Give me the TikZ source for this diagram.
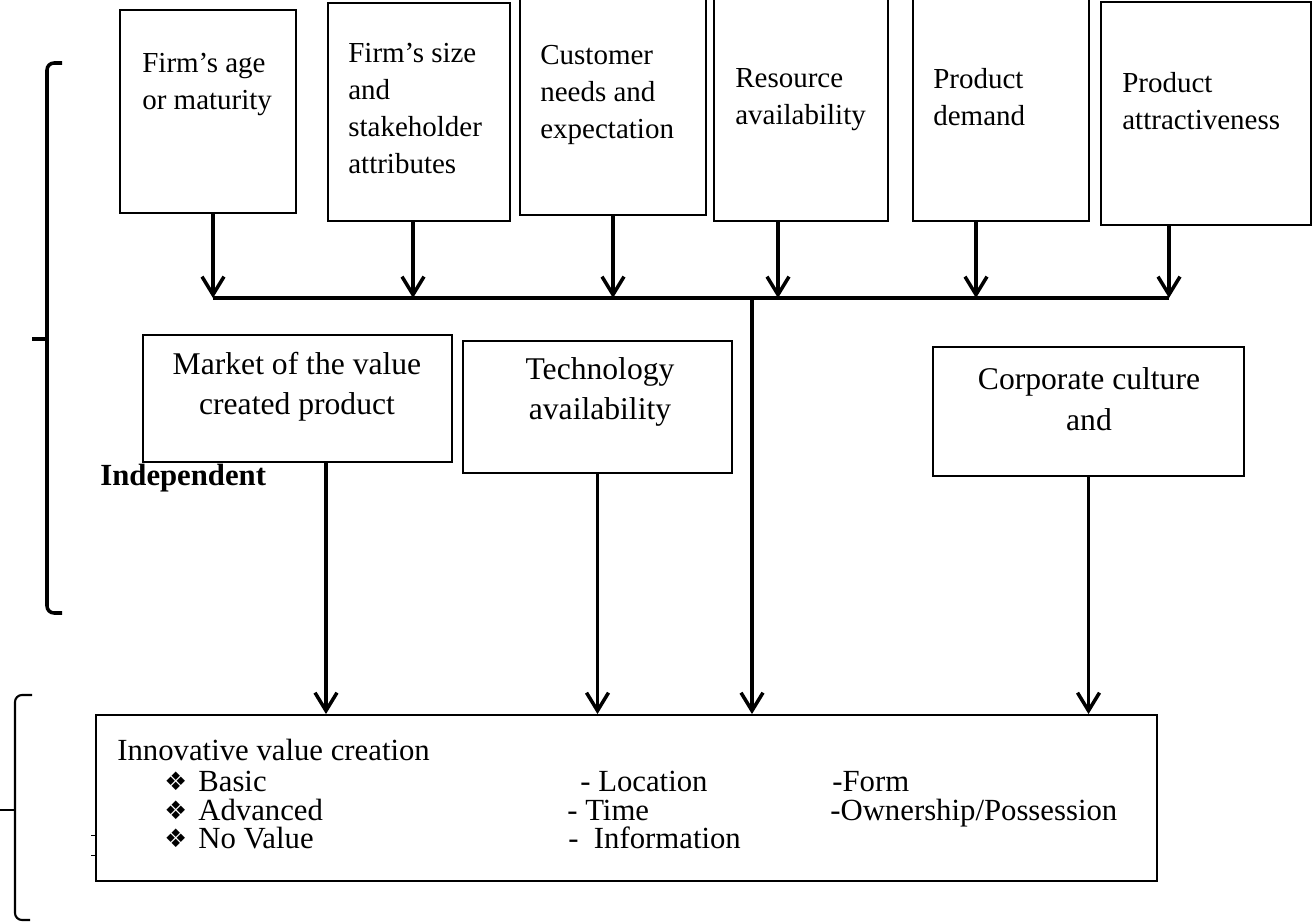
\documentclass[tikz,border=0pt]{standalone}
\usepackage{fontspec}
\setmainfont{Liberation Serif}
\newfontfamily\dingfont{DejaVu Sans}
\usetikzlibrary{arrows.meta,positioning}

\newcommand{\dbullet}{{\dingfont\fontsize{14.5}{14.5}\selectfont\char"2756}}

\begin{document}
\begin{tikzpicture}[
  x=0.02cm, y=-0.02cm,
  factor/.style={draw, line width=1.3pt, inner sep=0pt},
  factortext/.style={anchor=north west, align=left, inner sep=0pt, font=\fontsize{16.5}{21}\selectfont},
  midbox/.style={draw, line width=1.1pt, inner sep=0pt},
  midtext/.style={align=center, inner sep=0pt, font=\fontsize{18}{23}\selectfont},
  itemtext/.style={anchor=base west, inner sep=0pt, font=\fontsize{17.5}{20}\selectfont},
  flow/.style={line width=2pt, -{Straight Barb[length=0.36cm, width=0.44cm]}},
  bus/.style={line width=2pt},
  brace/.style={line width=2pt, rounded corners=4pt}
]
\useasboundingbox (0,0) rectangle (1313,923);

% top row of factors
\node[factor, minimum width=3.52cm, minimum height=4.06cm] (age) at (208,111.5) {};
\node[factor, minimum width=3.64cm, minimum height=4.36cm] (size) at (419,112) {};
\node[factor, minimum width=3.72cm, minimum height=4.5cm] (cust) at (613,102.5) {};
\node[factor, minimum width=3.48cm, minimum height=4.62cm] (res) at (801,105.5) {};
\node[factor, minimum width=3.52cm, minimum height=4.62cm] (dem) at (1001,105.5) {};
\node[factor, minimum width=4.2cm, minimum height=4.46cm] (attr) at (1206,113.5) {};

\node[factortext] (agetxt) at (142,53) {Firm’s age\\or maturity};
\node[factortext] (sizetxt) at (348,43) {Firm’s size\\and\\stakeholder\\attributes};
\node[factortext] (custtxt) at (540,45) {Customer\\needs and\\expectation};
\node[factortext] (restxt) at (735,68) {Resource\\availability};
\node[factortext] (demtxt) at (933,68) {Product\\demand};
\node[factortext] (attrtxt) at (1122,72) {Product\\attractiveness};

% collecting line
\coordinate (b1) at (213,298);
\coordinate (b2) at (413,298);
\coordinate (b3) at (613,298);
\coordinate (b4) at (778,298);
\coordinate (b5) at (976,298);
\coordinate (b6) at (1169,298);
\coordinate (trunk) at (752,298);

\draw[flow] (age.south -| b1) -- (b1);
\draw[flow] (size.south -| b2) -- (b2);
\draw[flow] (cust.south -| b3) -- (b3);
\draw[flow] (res.south -| b4) -- (b4);
\draw[flow] (dem.south -| b5) -- (b5);
\draw[flow] (attr.south -| b6) -- (b6);
\draw[bus] (b1) -- (b6);

% middle row
\node[midbox, minimum width=6.18cm, minimum height=2.54cm] (market) at (297.5,398.5) {};
\node[midbox, minimum width=5.38cm, minimum height=2.64cm] (tech) at (597.5,407) {};
\node[midbox, minimum width=6.22cm, minimum height=2.58cm] (corp) at (1088.5,411.5) {};

\node[midtext] (markettxt) at (297,387) {Market of the value\\created product};
\node[midtext] (techtxt) at (600,392) {Technology\\availability};
\node[midtext] (corptxt) at (1089,399) {Corporate culture\\and};

\node[anchor=west, inner sep=0pt, font=\bfseries\fontsize{17.5}{21}\selectfont] (indep) at (100,478) {Independent};

% outcome
\node[draw, line width=1.1pt, minimum width=21.22cm, minimum height=3.32cm] (result) at (626.5,798) {};

\draw[flow] ([xshift=0.57cm]market.south) -- ([xshift=0.57cm]market.south |- result.north);
\draw[flow] (tech.south) -- (tech.south |- result.north);
\draw[flow] (trunk) -- (trunk |- result.north);
\draw[flow] (corp.south) -- (corp.south |- result.north);

\node[itemtext] (ivc) at (117,760) {Innovative value creation};
\node[anchor=base west, inner sep=0pt] (bul1) at (164,790) {\dbullet};
\node[anchor=base west, inner sep=0pt] (bul2) at (164,819) {\dbullet};
\node[anchor=base west, inner sep=0pt] (bul3) at (164,847) {\dbullet};
\node[itemtext] (basic) at (198,791) {Basic};
\node[itemtext] (adv) at (198,820) {Advanced};
\node[itemtext] (noval) at (198,848) {No Value};
\node[itemtext] (loc) at (580,791) {- Location};
\node[itemtext] (time) at (567,820) {- Time};
\node[itemtext] (info) at (568,848) {-\ \ Information};
\node[itemtext] (form) at (832,791) {-Form};
\node[itemtext] (own) at (830,820) {-Ownership/Possession};

\draw[line width=0.4pt] (91,835) -- (96,835) (91,855) -- (96,855);

% braces
\draw[brace] (62,63) -- (47,63) -- (47,613) -- (62,613);
\draw[line width=2pt] (32,339) -- (47,339);
\draw[brace, line width=1.2pt] (32,695) -- (15,695) -- (15,920) -- (30,920);
\draw[line width=1.2pt] (0,810) -- (15,810);
\end{tikzpicture}
\end{document}
